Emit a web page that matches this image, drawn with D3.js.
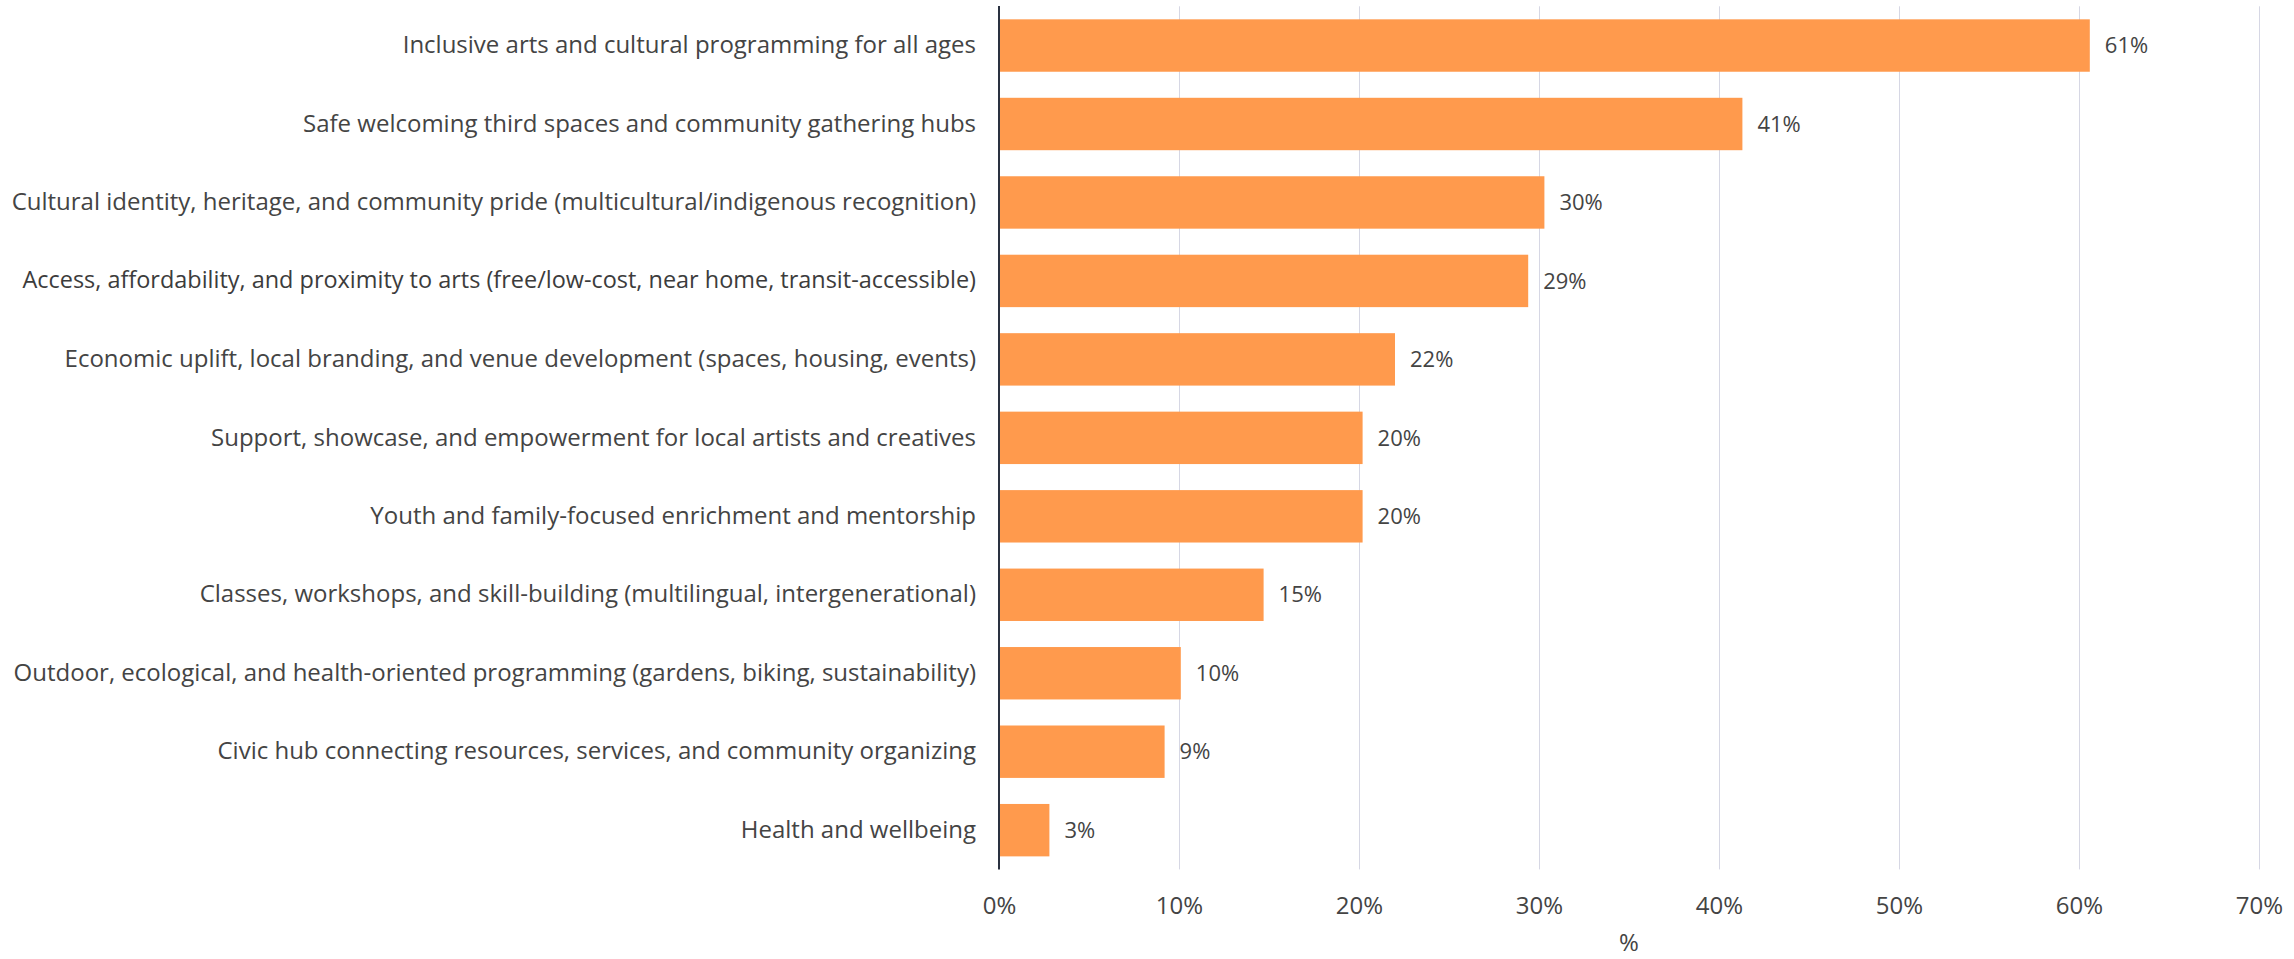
<!DOCTYPE html>
<html>
<head>
<meta charset="utf-8">
<script src="https://cdn.jsdelivr.net/npm/d3@7"></script>
<style>
  html, body { margin: 0; padding: 0; background: #fff; }
  svg { display: block; }
  svg text { font-family: "Open Sans", "Noto Sans", sans-serif; }
</style>
</head>
<body>
<svg id="chart" width="2294" height="959"></svg>
<script>
const categories = [
  "Inclusive arts and cultural programming for all ages",
  "Safe welcoming third spaces and community gathering hubs",
  "Cultural identity, heritage, and community pride (multicultural/indigenous recognition)",
  "Access, affordability, and proximity to arts (free/low-cost, near home, transit-accessible)",
  "Economic uplift, local branding, and venue development (spaces, housing, events)",
  "Support, showcase, and empowerment for local artists and creatives",
  "Youth and family-focused enrichment and mentorship",
  "Classes, workshops, and skill-building (multilingual, intergenerational)",
  "Outdoor, ecological, and health-oriented programming (gardens, biking, sustainability)",
  "Civic hub connecting resources, services, and community organizing",
  "Health and wellbeing"
];
const values = [60.6, 41.3, 30.3, 29.4, 22.0, 20.2, 20.2, 14.7, 10.1, 9.2, 2.8];
const valueLabels = ["61%", "41%", "30%", "29%", "22%", "20%", "20%", "15%", "10%", "9%", "3%"];
const xTicks = [0, 10, 20, 30, 40, 50, 60, 70];
const xTickLabels = ["0%", "10%", "20%", "30%", "40%", "50%", "60%", "70%"];
const axisTitle = "%";
const emphasizedCategory = 3;

const svg = d3.select("#chart");
const x = d3.scaleLinear().domain([0, 70]).range([999, 2259]);
const y = d3.scaleBand().domain(categories).range([6.3, 869.4]).paddingInner(0.332).paddingOuter(0.166);

// grid lines
svg.append("g")
  .attr("transform", "translate(0,869.4)")
  .call(d3.axisBottom(x).tickValues(xTicks.slice(1)).tickSize(-(869.4 - 6.3)).tickFormat(""))
  .call(g => g.select(".domain").remove())
  .call(g => g.selectAll("line").attr("stroke", "#d6d7e4").attr("stroke-width", 1));

// bars
svg.append("g").selectAll("rect")
  .data(values)
  .join("rect")
  .attr("x", x(0))
  .attr("y", (d, i) => y(categories[i]))
  .attr("width", d => x(d) - x(0))
  .attr("height", y.bandwidth())
  .attr("fill", "#ff9a4d");

// value labels
svg.append("g").selectAll("text")
  .data(values)
  .join("text")
  .attr("x", d => x(d) + 15)
  .attr("y", (d, i) => y(categories[i]) + y.bandwidth() / 2)
  .attr("dy", "0.35em")
  .attr("font-size", 22)
  .attr("fill", "#444")
  .text((d, i) => valueLabels[i]);

// category labels
const catAxis = svg.append("g")
  .attr("transform", `translate(${x(0)},0)`)
  .call(d3.axisLeft(y).tickSize(0).tickPadding(23))
  .attr("font-family", null).attr("font-size", null)
  .call(g => g.select(".domain").remove())
  .call(g => g.selectAll("text").attr("font-size", 24).attr("fill", "#444"));

// the emphasized label is slightly heavier and fitted to the same span as in the reference
catAxis.selectAll("text").filter((d, i) => i === emphasizedCategory)
  .attr("font-weight", 500)
  .attr("fill", "#3c3c3c")
  .each(function () {
    const len = this.getComputedTextLength();
    const target = 954;
    if (len > 0) d3.select(this).attr("font-size", 24 * target / len);
  });

// x tick labels
svg.append("g")
  .attr("transform", "translate(0,869.4)")
  .call(d3.axisBottom(x).tickValues(xTicks).tickSize(0).tickPadding(28).tickFormat((d, i) => xTickLabels[i]))
  .attr("font-family", null).attr("font-size", null)
  .call(g => g.select(".domain").remove())
  .call(g => g.selectAll("text").attr("font-size", 24).attr("fill", "#444"));

// y axis line
svg.append("line")
  .attr("x1", x(0)).attr("x2", x(0))
  .attr("y1", 6).attr("y2", 869.4)
  .attr("stroke", "#2a3140").attr("stroke-width", 2);

// axis title
svg.append("text")
  .attr("x", (x(0) + x(70)) / 2)
  .attr("y", 943)
  .attr("dy", "0.35em")
  .attr("text-anchor", "middle")
  .attr("font-size", 24)
  .attr("fill", "#444")
  .text(axisTitle);
</script>
</body>
</html>
